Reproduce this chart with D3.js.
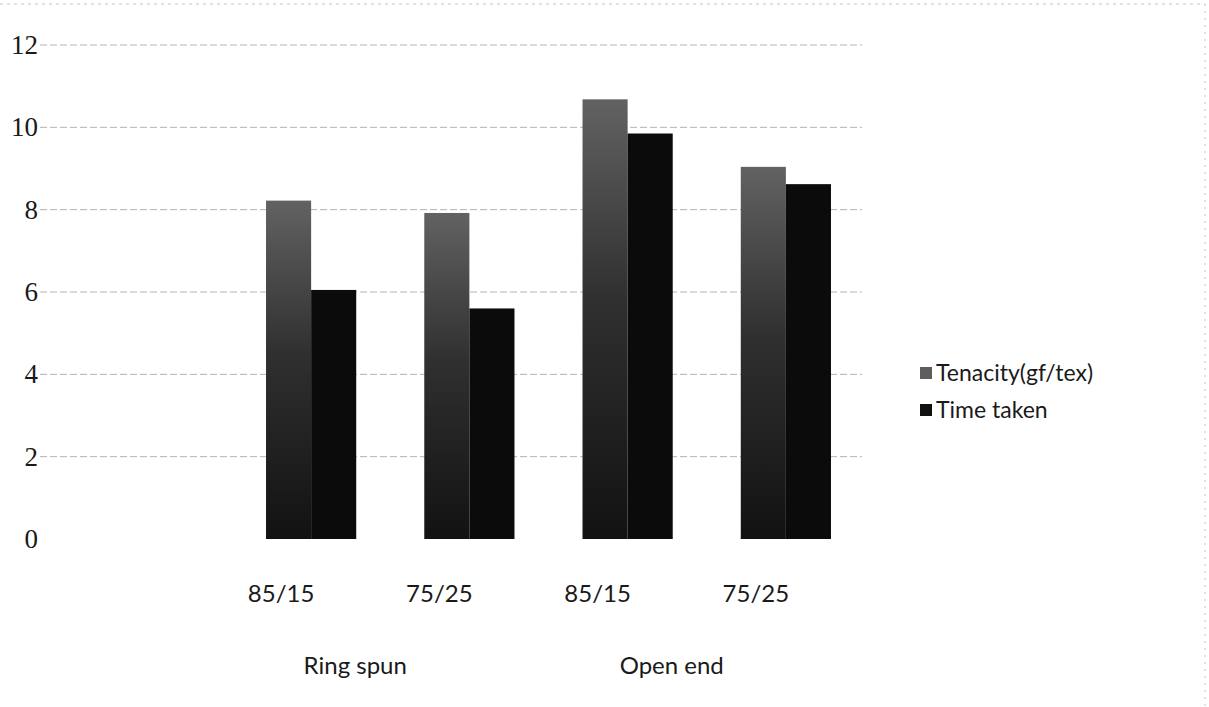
<!DOCTYPE html>
<html>
<head>
<meta charset="utf-8">
<script src="https://cdn.jsdelivr.net/npm/d3@7/dist/d3.min.js"></script>
<style>
  html, body { margin: 0; padding: 0; background: #fff; }
  svg { display: block; }
</style>
</head>
<body>
<svg id="chart" width="1209" height="707"></svg>
<script>
// Yarn blends, grouped by spinning system
const categories = ["85/15", "75/25", "85/15", "75/25"];
const groups = ["Ring spun", "Open end"];
const seriesNames = ["Tenacity(gf/tex)", "Time taken"];
const tenacity = [8.22, 7.92, 10.68, 9.04];
const timeTaken = [6.05, 5.6, 9.85, 8.62];
const yTicks = [0, 2, 4, 6, 8, 10, 12];

const svg = d3.select("#chart");
const W = 1209, H = 707;

const x = d3.scaleBand()
  .domain(d3.range(categories.length))
  .range([232, 865])
  .paddingInner(0.43)
  .paddingOuter(0.215);

const xs = d3.scaleBand()
  .domain([0, 1])
  .range([0, x.bandwidth()]);

const y = d3.scaleLinear().domain([0, 12]).range([539, 45]);

// gradient for the first series
const defs = svg.append("defs");
const grad = defs.append("linearGradient")
  .attr("id", "tenGrad").attr("x1", 0).attr("y1", 0).attr("x2", 0).attr("y2", 1);
grad.append("stop").attr("offset", "0%").attr("stop-color", "#626262");
grad.append("stop").attr("offset", "45%").attr("stop-color", "#303030");
grad.append("stop").attr("offset", "100%").attr("stop-color", "#121212");

const colors = ["url(#tenGrad)", "#0b0b0b"];
const legendColors = ["#5e5e5e", "#111"];

// outer frame (top and right edges)
svg.append("line").attr("x1", 0).attr("x2", W - 4).attr("y1", 4).attr("y2", 4)
  .attr("stroke", "#c4c4c4").attr("stroke-dasharray", "3,4");
svg.append("line").attr("x1", W - 4).attr("x2", W - 4).attr("y1", 4).attr("y2", H)
  .attr("stroke", "#c4c4c4").attr("stroke-dasharray", "2,5");

// horizontal gridlines
svg.append("g").selectAll("line")
  .data(yTicks.filter(d => d > 0))
  .join("line")
  .attr("x1", 40).attr("x2", 862)
  .attr("y1", d => y(d)).attr("y2", d => y(d))
  .attr("stroke", "#b4b4b4").attr("stroke-width", 1)
  .attr("stroke-dasharray", "7,3");

// y axis labels
const yAxis = svg.append("g")
  .attr("transform", "translate(40,0)")
  .call(d3.axisLeft(y).tickValues(yTicks).tickSize(0).tickPadding(2).tickFormat(d3.format("d")));
yAxis.select(".domain").remove();
yAxis.selectAll("text")
  .attr("font-family", "'Liberation Serif', serif")
  .attr("font-size", 27)
  .attr("fill", "#1a1a1a");

// bars
const rows = categories.map((c, i) => ({ i, values: [tenacity[i], timeTaken[i]] }));
const barG = svg.append("g");
rows.forEach(r => {
  barG.selectAll(null)
    .data(r.values.map((v, s) => ({ s, v })))
    .join("rect")
    .attr("x", d => x(r.i) + xs(d.s))
    .attr("width", xs.bandwidth())
    .attr("y", d => y(d.v))
    .attr("height", d => y(0) - y(d.v))
    .attr("fill", d => colors[d.s]);
});

// category labels
const xAxis = svg.append("g")
  .attr("transform", "translate(-30,585)")
  .call(d3.axisBottom(x).tickSize(0).tickPadding(0).tickFormat(i => categories[i]));
xAxis.select(".domain").remove();
xAxis.selectAll("text")
  .attr("font-family", "Lato, 'Open Sans', sans-serif")
  .attr("font-size", 24)
  .attr("fill", "#1a1a1a");

// spinning-system group labels
svg.append("g").selectAll("text")
  .data(groups)
  .join("text")
  .attr("x", (d, g) => (x(g * 2) + x(g * 2 + 1) + x.bandwidth()) / 2 - 35)
  .attr("y", 674)
  .attr("text-anchor", "middle")
  .attr("font-family", "Lato, 'Open Sans', sans-serif")
  .attr("font-size", 24)
  .attr("fill", "#1a1a1a")
  .text(d => d);

// legend
const legend = svg.append("g").attr("transform", "translate(920,373)");
const li = legend.selectAll("g").data(seriesNames).join("g")
  .attr("transform", (d, i) => `translate(0,${i * 37})`);
li.append("rect").attr("x", 0).attr("y", -6).attr("width", 12).attr("height", 12)
  .attr("fill", (d, i) => legendColors[i]);
li.append("text").attr("x", 16).attr("y", 0).attr("dy", "0.35em")
  .attr("font-family", "Lato, 'Open Sans', sans-serif")
  .attr("font-size", 23)
  .attr("fill", "#1a1a1a")
  .text(d => d);
</script>
</body>
</html>
